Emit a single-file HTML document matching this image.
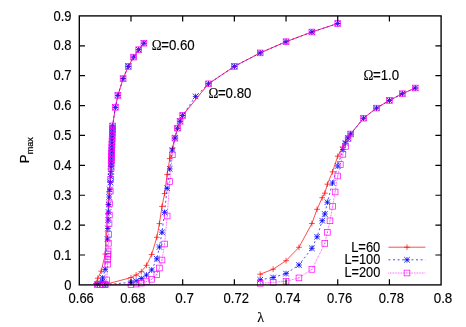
<!DOCTYPE html>
<html><head><meta charset="utf-8"><style>
html,body{margin:0;padding:0;background:#fff;}
svg{display:block;}
text{font-family:"Liberation Sans",sans-serif;fill:#000;stroke:#000;stroke-width:0.15px;}
</style></head><body>
<svg width="466" height="327" viewBox="0 0 466 327" style="will-change:transform">
<rect width="466" height="327" fill="#fff"/>
<g><path d="M95.89 283.50 L97.80 278.20 L101.20 271.20 L105.30 254.00 L107.93 213.50 L108.25 204.60 L109.15 191.50 L110.01 181.50 L110.65 174.00 L111.11 167.00 L111.25 163.10 L111.36 160.00 L111.47 156.90 L111.58 153.80 L111.69 150.70 L111.80 147.60 L111.92 144.50 L112.03 141.40 L112.14 138.30 L112.25 135.20 L112.36 132.10 L112.47 129.00 L112.59 125.90 L115.40 107.30 L117.90 95.40 L123.10 78.60 L128.30 66.40 L133.60 57.10 L138.70 49.70 L143.90 43.20" fill="none" stroke="#ff0000" stroke-width="0.7"/>
<path d="M93.04 283.50H98.74M95.89 280.65V286.35" stroke="#ff0000" stroke-width="0.7" fill="none"/>
<path d="M94.95 278.20H100.65M97.80 275.35V281.05" stroke="#ff0000" stroke-width="0.7" fill="none"/>
<path d="M98.35 271.20H104.05M101.20 268.35V274.05" stroke="#ff0000" stroke-width="0.7" fill="none"/>
<path d="M102.45 254.00H108.15M105.30 251.15V256.85" stroke="#ff0000" stroke-width="0.7" fill="none"/>
<path d="M105.08 213.50H110.78M107.93 210.65V216.35" stroke="#ff0000" stroke-width="0.7" fill="none"/>
<path d="M105.40 204.60H111.10M108.25 201.75V207.45" stroke="#ff0000" stroke-width="0.7" fill="none"/>
<path d="M106.30 191.50H112.00M109.15 188.65V194.35" stroke="#ff0000" stroke-width="0.7" fill="none"/>
<path d="M107.16 181.50H112.86M110.01 178.65V184.35" stroke="#ff0000" stroke-width="0.7" fill="none"/>
<path d="M107.80 174.00H113.50M110.65 171.15V176.85" stroke="#ff0000" stroke-width="0.7" fill="none"/>
<path d="M108.26 167.00H113.96M111.11 164.15V169.85" stroke="#ff0000" stroke-width="0.7" fill="none"/>
<path d="M108.40 163.10H114.10M111.25 160.25V165.95" stroke="#ff0000" stroke-width="0.7" fill="none"/>
<path d="M108.51 160.00H114.21M111.36 157.15V162.85" stroke="#ff0000" stroke-width="0.7" fill="none"/>
<path d="M108.62 156.90H114.32M111.47 154.05V159.75" stroke="#ff0000" stroke-width="0.7" fill="none"/>
<path d="M108.73 153.80H114.43M111.58 150.95V156.65" stroke="#ff0000" stroke-width="0.7" fill="none"/>
<path d="M108.84 150.70H114.54M111.69 147.85V153.55" stroke="#ff0000" stroke-width="0.7" fill="none"/>
<path d="M108.95 147.60H114.65M111.80 144.75V150.45" stroke="#ff0000" stroke-width="0.7" fill="none"/>
<path d="M109.07 144.50H114.77M111.92 141.65V147.35" stroke="#ff0000" stroke-width="0.7" fill="none"/>
<path d="M109.18 141.40H114.88M112.03 138.55V144.25" stroke="#ff0000" stroke-width="0.7" fill="none"/>
<path d="M109.29 138.30H114.99M112.14 135.45V141.15" stroke="#ff0000" stroke-width="0.7" fill="none"/>
<path d="M109.40 135.20H115.10M112.25 132.35V138.05" stroke="#ff0000" stroke-width="0.7" fill="none"/>
<path d="M109.51 132.10H115.21M112.36 129.25V134.95" stroke="#ff0000" stroke-width="0.7" fill="none"/>
<path d="M109.62 129.00H115.32M112.47 126.15V131.85" stroke="#ff0000" stroke-width="0.7" fill="none"/>
<path d="M109.74 125.90H115.44M112.59 123.05V128.75" stroke="#ff0000" stroke-width="0.7" fill="none"/>
<path d="M112.55 107.30H118.25M115.40 104.45V110.15" stroke="#ff0000" stroke-width="0.7" fill="none"/>
<path d="M115.05 95.40H120.75M117.90 92.55V98.25" stroke="#ff0000" stroke-width="0.7" fill="none"/>
<path d="M120.25 78.60H125.95M123.10 75.75V81.45" stroke="#ff0000" stroke-width="0.7" fill="none"/>
<path d="M125.45 66.40H131.15M128.30 63.55V69.25" stroke="#ff0000" stroke-width="0.7" fill="none"/>
<path d="M130.75 57.10H136.45M133.60 54.25V59.95" stroke="#ff0000" stroke-width="0.7" fill="none"/>
<path d="M135.85 49.70H141.55M138.70 46.85V52.55" stroke="#ff0000" stroke-width="0.7" fill="none"/>
<path d="M141.05 43.20H146.75M143.90 40.35V46.05" stroke="#ff0000" stroke-width="0.7" fill="none"/>
<path d="M105.14 284.50 L130.99 277.60 L136.15 275.00 L141.32 271.60 L146.49 265.30 L151.66 254.50 L156.83 237.30 L159.41 223.60 L162.00 206.40 L164.58 193.50 L167.17 174.60 L169.75 158.60 L172.33 148.50 L174.92 138.10 L177.50 128.20 L180.09 121.30 L182.67 115.40 L208.51 83.80 L234.36 66.40 L260.20 52.90 L286.04 41.70 L311.89 32.00 L337.73 23.50" fill="none" stroke="#ff0000" stroke-width="0.7"/>
<path d="M102.29 284.50H107.99M105.14 281.65V287.35" stroke="#ff0000" stroke-width="0.7" fill="none"/>
<path d="M128.14 277.60H133.84M130.99 274.75V280.45" stroke="#ff0000" stroke-width="0.7" fill="none"/>
<path d="M133.30 275.00H139.00M136.15 272.15V277.85" stroke="#ff0000" stroke-width="0.7" fill="none"/>
<path d="M138.47 271.60H144.17M141.32 268.75V274.45" stroke="#ff0000" stroke-width="0.7" fill="none"/>
<path d="M143.64 265.30H149.34M146.49 262.45V268.15" stroke="#ff0000" stroke-width="0.7" fill="none"/>
<path d="M148.81 254.50H154.51M151.66 251.65V257.35" stroke="#ff0000" stroke-width="0.7" fill="none"/>
<path d="M153.98 237.30H159.68M156.83 234.45V240.15" stroke="#ff0000" stroke-width="0.7" fill="none"/>
<path d="M156.56 223.60H162.26M159.41 220.75V226.45" stroke="#ff0000" stroke-width="0.7" fill="none"/>
<path d="M159.15 206.40H164.85M162.00 203.55V209.25" stroke="#ff0000" stroke-width="0.7" fill="none"/>
<path d="M161.73 193.50H167.43M164.58 190.65V196.35" stroke="#ff0000" stroke-width="0.7" fill="none"/>
<path d="M164.32 174.60H170.02M167.17 171.75V177.45" stroke="#ff0000" stroke-width="0.7" fill="none"/>
<path d="M166.90 158.60H172.60M169.75 155.75V161.45" stroke="#ff0000" stroke-width="0.7" fill="none"/>
<path d="M169.48 148.50H175.18M172.33 145.65V151.35" stroke="#ff0000" stroke-width="0.7" fill="none"/>
<path d="M172.07 138.10H177.77M174.92 135.25V140.95" stroke="#ff0000" stroke-width="0.7" fill="none"/>
<path d="M174.65 128.20H180.35M177.50 125.35V131.05" stroke="#ff0000" stroke-width="0.7" fill="none"/>
<path d="M177.24 121.30H182.94M180.09 118.45V124.15" stroke="#ff0000" stroke-width="0.7" fill="none"/>
<path d="M179.82 115.40H185.52M182.67 112.55V118.25" stroke="#ff0000" stroke-width="0.7" fill="none"/>
<path d="M205.66 83.80H211.36M208.51 80.95V86.65" stroke="#ff0000" stroke-width="0.7" fill="none"/>
<path d="M231.51 66.40H237.21M234.36 63.55V69.25" stroke="#ff0000" stroke-width="0.7" fill="none"/>
<path d="M257.35 52.90H263.05M260.20 50.05V55.75" stroke="#ff0000" stroke-width="0.7" fill="none"/>
<path d="M283.19 41.70H288.89M286.04 38.85V44.55" stroke="#ff0000" stroke-width="0.7" fill="none"/>
<path d="M309.04 32.00H314.74M311.89 29.15V34.85" stroke="#ff0000" stroke-width="0.7" fill="none"/>
<path d="M334.88 23.50H340.58M337.73 20.65V26.35" stroke="#ff0000" stroke-width="0.7" fill="none"/>
<path d="M260.20 274.20 L273.12 269.20 L286.04 260.70 L298.96 247.30 L311.89 223.50 L317.05 209.30 L322.22 197.70 L324.81 193.20 L327.39 184.20 L332.56 171.80 L337.73 156.20 L342.90 147.00 L345.48 141.50 L348.07 137.80 L350.65 134.00 L363.57 118.20 L376.49 108.10 L389.41 100.40 L402.34 93.70 L415.26 88.00" fill="none" stroke="#ff0000" stroke-width="0.7"/>
<path d="M257.35 274.20H263.05M260.20 271.35V277.05" stroke="#ff0000" stroke-width="0.7" fill="none"/>
<path d="M270.27 269.20H275.97M273.12 266.35V272.05" stroke="#ff0000" stroke-width="0.7" fill="none"/>
<path d="M283.19 260.70H288.89M286.04 257.85V263.55" stroke="#ff0000" stroke-width="0.7" fill="none"/>
<path d="M296.11 247.30H301.81M298.96 244.45V250.15" stroke="#ff0000" stroke-width="0.7" fill="none"/>
<path d="M309.04 223.50H314.74M311.89 220.65V226.35" stroke="#ff0000" stroke-width="0.7" fill="none"/>
<path d="M314.20 209.30H319.90M317.05 206.45V212.15" stroke="#ff0000" stroke-width="0.7" fill="none"/>
<path d="M319.37 197.70H325.07M322.22 194.85V200.55" stroke="#ff0000" stroke-width="0.7" fill="none"/>
<path d="M321.96 193.20H327.66M324.81 190.35V196.05" stroke="#ff0000" stroke-width="0.7" fill="none"/>
<path d="M324.54 184.20H330.24M327.39 181.35V187.05" stroke="#ff0000" stroke-width="0.7" fill="none"/>
<path d="M329.71 171.80H335.41M332.56 168.95V174.65" stroke="#ff0000" stroke-width="0.7" fill="none"/>
<path d="M334.88 156.20H340.58M337.73 153.35V159.05" stroke="#ff0000" stroke-width="0.7" fill="none"/>
<path d="M340.05 147.00H345.75M342.90 144.15V149.85" stroke="#ff0000" stroke-width="0.7" fill="none"/>
<path d="M342.63 141.50H348.33M345.48 138.65V144.35" stroke="#ff0000" stroke-width="0.7" fill="none"/>
<path d="M345.22 137.80H350.92M348.07 134.95V140.65" stroke="#ff0000" stroke-width="0.7" fill="none"/>
<path d="M347.80 134.00H353.50M350.65 131.15V136.85" stroke="#ff0000" stroke-width="0.7" fill="none"/>
<path d="M360.72 118.20H366.42M363.57 115.35V121.05" stroke="#ff0000" stroke-width="0.7" fill="none"/>
<path d="M373.64 108.10H379.34M376.49 105.25V110.95" stroke="#ff0000" stroke-width="0.7" fill="none"/>
<path d="M386.56 100.40H392.26M389.41 97.55V103.25" stroke="#ff0000" stroke-width="0.7" fill="none"/>
<path d="M399.49 93.70H405.19M402.34 90.85V96.55" stroke="#ff0000" stroke-width="0.7" fill="none"/>
<path d="M412.41 88.00H418.11M415.26 85.15V90.85" stroke="#ff0000" stroke-width="0.7" fill="none"/>
<path d="M97.39 284.20 L99.97 283.20 L102.56 281.30 L102.70 277.90 L105.20 269.40 L107.51 239.10 L107.89 228.50 L108.20 220.00 L108.49 212.00 L108.75 204.60 L109.18 197.00 L109.82 189.50 L110.42 182.50 L110.76 176.70 L110.94 171.50 L111.12 166.50 L111.25 163.10 L111.36 160.00 L111.47 156.90 L111.58 153.80 L111.69 150.70 L111.80 147.60 L111.92 144.50 L112.03 141.40 L112.14 138.30 L112.25 135.20 L112.36 132.10 L112.47 129.00 L112.59 125.90 L115.40 107.30 L117.90 95.40 L123.10 78.60 L128.30 66.40 L133.60 57.10 L138.70 49.70 L143.90 43.20" fill="none" stroke="#0000ff" stroke-width="0.7" stroke-dasharray="2 2.6"/>
<path d="M94.59 284.20H100.19M97.39 281.40V287.00M94.59 281.40L100.19 287.00M94.59 287.00L100.19 281.40" stroke="#0000ff" stroke-width="0.8" fill="none"/>
<path d="M97.17 283.20H102.77M99.97 280.40V286.00M97.17 280.40L102.77 286.00M97.17 286.00L102.77 280.40" stroke="#0000ff" stroke-width="0.8" fill="none"/>
<path d="M99.76 281.30H105.36M102.56 278.50V284.10M99.76 278.50L105.36 284.10M99.76 284.10L105.36 278.50" stroke="#0000ff" stroke-width="0.8" fill="none"/>
<path d="M99.90 277.90H105.50M102.70 275.10V280.70M99.90 275.10L105.50 280.70M99.90 280.70L105.50 275.10" stroke="#0000ff" stroke-width="0.8" fill="none"/>
<path d="M102.40 269.40H108.00M105.20 266.60V272.20M102.40 266.60L108.00 272.20M102.40 272.20L108.00 266.60" stroke="#0000ff" stroke-width="0.8" fill="none"/>
<path d="M104.71 239.10H110.31M107.51 236.30V241.90M104.71 236.30L110.31 241.90M104.71 241.90L110.31 236.30" stroke="#0000ff" stroke-width="0.8" fill="none"/>
<path d="M105.09 228.50H110.69M107.89 225.70V231.30M105.09 225.70L110.69 231.30M105.09 231.30L110.69 225.70" stroke="#0000ff" stroke-width="0.8" fill="none"/>
<path d="M105.40 220.00H111.00M108.20 217.20V222.80M105.40 217.20L111.00 222.80M105.40 222.80L111.00 217.20" stroke="#0000ff" stroke-width="0.8" fill="none"/>
<path d="M105.69 212.00H111.29M108.49 209.20V214.80M105.69 209.20L111.29 214.80M105.69 214.80L111.29 209.20" stroke="#0000ff" stroke-width="0.8" fill="none"/>
<path d="M105.95 204.60H111.55M108.75 201.80V207.40M105.95 201.80L111.55 207.40M105.95 207.40L111.55 201.80" stroke="#0000ff" stroke-width="0.8" fill="none"/>
<path d="M106.38 197.00H111.98M109.18 194.20V199.80M106.38 194.20L111.98 199.80M106.38 199.80L111.98 194.20" stroke="#0000ff" stroke-width="0.8" fill="none"/>
<path d="M107.02 189.50H112.62M109.82 186.70V192.30M107.02 186.70L112.62 192.30M107.02 192.30L112.62 186.70" stroke="#0000ff" stroke-width="0.8" fill="none"/>
<path d="M107.62 182.50H113.22M110.42 179.70V185.30M107.62 179.70L113.22 185.30M107.62 185.30L113.22 179.70" stroke="#0000ff" stroke-width="0.8" fill="none"/>
<path d="M107.96 176.70H113.56M110.76 173.90V179.50M107.96 173.90L113.56 179.50M107.96 179.50L113.56 173.90" stroke="#0000ff" stroke-width="0.8" fill="none"/>
<path d="M108.14 171.50H113.74M110.94 168.70V174.30M108.14 168.70L113.74 174.30M108.14 174.30L113.74 168.70" stroke="#0000ff" stroke-width="0.8" fill="none"/>
<path d="M108.32 166.50H113.92M111.12 163.70V169.30M108.32 163.70L113.92 169.30M108.32 169.30L113.92 163.70" stroke="#0000ff" stroke-width="0.8" fill="none"/>
<path d="M108.45 163.10H114.05M111.25 160.30V165.90M108.45 160.30L114.05 165.90M108.45 165.90L114.05 160.30" stroke="#0000ff" stroke-width="0.8" fill="none"/>
<path d="M108.56 160.00H114.16M111.36 157.20V162.80M108.56 157.20L114.16 162.80M108.56 162.80L114.16 157.20" stroke="#0000ff" stroke-width="0.8" fill="none"/>
<path d="M108.67 156.90H114.27M111.47 154.10V159.70M108.67 154.10L114.27 159.70M108.67 159.70L114.27 154.10" stroke="#0000ff" stroke-width="0.8" fill="none"/>
<path d="M108.78 153.80H114.38M111.58 151.00V156.60M108.78 151.00L114.38 156.60M108.78 156.60L114.38 151.00" stroke="#0000ff" stroke-width="0.8" fill="none"/>
<path d="M108.89 150.70H114.49M111.69 147.90V153.50M108.89 147.90L114.49 153.50M108.89 153.50L114.49 147.90" stroke="#0000ff" stroke-width="0.8" fill="none"/>
<path d="M109.00 147.60H114.60M111.80 144.80V150.40M109.00 144.80L114.60 150.40M109.00 150.40L114.60 144.80" stroke="#0000ff" stroke-width="0.8" fill="none"/>
<path d="M109.12 144.50H114.72M111.92 141.70V147.30M109.12 141.70L114.72 147.30M109.12 147.30L114.72 141.70" stroke="#0000ff" stroke-width="0.8" fill="none"/>
<path d="M109.23 141.40H114.83M112.03 138.60V144.20M109.23 138.60L114.83 144.20M109.23 144.20L114.83 138.60" stroke="#0000ff" stroke-width="0.8" fill="none"/>
<path d="M109.34 138.30H114.94M112.14 135.50V141.10M109.34 135.50L114.94 141.10M109.34 141.10L114.94 135.50" stroke="#0000ff" stroke-width="0.8" fill="none"/>
<path d="M109.45 135.20H115.05M112.25 132.40V138.00M109.45 132.40L115.05 138.00M109.45 138.00L115.05 132.40" stroke="#0000ff" stroke-width="0.8" fill="none"/>
<path d="M109.56 132.10H115.16M112.36 129.30V134.90M109.56 129.30L115.16 134.90M109.56 134.90L115.16 129.30" stroke="#0000ff" stroke-width="0.8" fill="none"/>
<path d="M109.67 129.00H115.27M112.47 126.20V131.80M109.67 126.20L115.27 131.80M109.67 131.80L115.27 126.20" stroke="#0000ff" stroke-width="0.8" fill="none"/>
<path d="M109.79 125.90H115.39M112.59 123.10V128.70M109.79 123.10L115.39 128.70M109.79 128.70L115.39 123.10" stroke="#0000ff" stroke-width="0.8" fill="none"/>
<path d="M112.60 107.30H118.20M115.40 104.50V110.10M112.60 104.50L118.20 110.10M112.60 110.10L118.20 104.50" stroke="#0000ff" stroke-width="0.8" fill="none"/>
<path d="M115.10 95.40H120.70M117.90 92.60V98.20M115.10 92.60L120.70 98.20M115.10 98.20L120.70 92.60" stroke="#0000ff" stroke-width="0.8" fill="none"/>
<path d="M120.30 78.60H125.90M123.10 75.80V81.40M120.30 75.80L125.90 81.40M120.30 81.40L125.90 75.80" stroke="#0000ff" stroke-width="0.8" fill="none"/>
<path d="M125.50 66.40H131.10M128.30 63.60V69.20M125.50 63.60L131.10 69.20M125.50 69.20L131.10 63.60" stroke="#0000ff" stroke-width="0.8" fill="none"/>
<path d="M130.80 57.10H136.40M133.60 54.30V59.90M130.80 54.30L136.40 59.90M130.80 59.90L136.40 54.30" stroke="#0000ff" stroke-width="0.8" fill="none"/>
<path d="M135.90 49.70H141.50M138.70 46.90V52.50M135.90 46.90L141.50 52.50M135.90 52.50L141.50 46.90" stroke="#0000ff" stroke-width="0.8" fill="none"/>
<path d="M141.10 43.20H146.70M143.90 40.40V46.00M141.10 40.40L146.70 46.00M141.10 46.00L146.70 40.40" stroke="#0000ff" stroke-width="0.8" fill="none"/>
<path d="M105.14 284.60 L130.99 282.40 L136.15 281.00 L141.32 278.50 L146.49 275.00 L151.66 270.00 L156.83 258.80 L159.41 247.00 L162.00 232.20 L164.58 212.40 L167.17 188.30 L169.75 168.90 L172.33 150.00 L174.92 138.10 L177.50 128.20 L180.09 121.30 L182.67 115.40 L195.59 96.40 L208.51 83.80 L234.36 66.40 L260.20 52.90 L286.04 41.70 L311.89 32.00 L337.73 23.50" fill="none" stroke="#0000ff" stroke-width="0.7" stroke-dasharray="2 2.6"/>
<path d="M102.34 284.60H107.94M105.14 281.80V287.40M102.34 281.80L107.94 287.40M102.34 287.40L107.94 281.80" stroke="#0000ff" stroke-width="0.8" fill="none"/>
<path d="M128.19 282.40H133.79M130.99 279.60V285.20M128.19 279.60L133.79 285.20M128.19 285.20L133.79 279.60" stroke="#0000ff" stroke-width="0.8" fill="none"/>
<path d="M133.35 281.00H138.95M136.15 278.20V283.80M133.35 278.20L138.95 283.80M133.35 283.80L138.95 278.20" stroke="#0000ff" stroke-width="0.8" fill="none"/>
<path d="M138.52 278.50H144.12M141.32 275.70V281.30M138.52 275.70L144.12 281.30M138.52 281.30L144.12 275.70" stroke="#0000ff" stroke-width="0.8" fill="none"/>
<path d="M143.69 275.00H149.29M146.49 272.20V277.80M143.69 272.20L149.29 277.80M143.69 277.80L149.29 272.20" stroke="#0000ff" stroke-width="0.8" fill="none"/>
<path d="M148.86 270.00H154.46M151.66 267.20V272.80M148.86 267.20L154.46 272.80M148.86 272.80L154.46 267.20" stroke="#0000ff" stroke-width="0.8" fill="none"/>
<path d="M154.03 258.80H159.63M156.83 256.00V261.60M154.03 256.00L159.63 261.60M154.03 261.60L159.63 256.00" stroke="#0000ff" stroke-width="0.8" fill="none"/>
<path d="M156.61 247.00H162.21M159.41 244.20V249.80M156.61 244.20L162.21 249.80M156.61 249.80L162.21 244.20" stroke="#0000ff" stroke-width="0.8" fill="none"/>
<path d="M159.20 232.20H164.80M162.00 229.40V235.00M159.20 229.40L164.80 235.00M159.20 235.00L164.80 229.40" stroke="#0000ff" stroke-width="0.8" fill="none"/>
<path d="M161.78 212.40H167.38M164.58 209.60V215.20M161.78 209.60L167.38 215.20M161.78 215.20L167.38 209.60" stroke="#0000ff" stroke-width="0.8" fill="none"/>
<path d="M164.37 188.30H169.97M167.17 185.50V191.10M164.37 185.50L169.97 191.10M164.37 191.10L169.97 185.50" stroke="#0000ff" stroke-width="0.8" fill="none"/>
<path d="M166.95 168.90H172.55M169.75 166.10V171.70M166.95 166.10L172.55 171.70M166.95 171.70L172.55 166.10" stroke="#0000ff" stroke-width="0.8" fill="none"/>
<path d="M169.53 150.00H175.13M172.33 147.20V152.80M169.53 147.20L175.13 152.80M169.53 152.80L175.13 147.20" stroke="#0000ff" stroke-width="0.8" fill="none"/>
<path d="M172.12 138.10H177.72M174.92 135.30V140.90M172.12 135.30L177.72 140.90M172.12 140.90L177.72 135.30" stroke="#0000ff" stroke-width="0.8" fill="none"/>
<path d="M174.70 128.20H180.30M177.50 125.40V131.00M174.70 125.40L180.30 131.00M174.70 131.00L180.30 125.40" stroke="#0000ff" stroke-width="0.8" fill="none"/>
<path d="M177.29 121.30H182.89M180.09 118.50V124.10M177.29 118.50L182.89 124.10M177.29 124.10L182.89 118.50" stroke="#0000ff" stroke-width="0.8" fill="none"/>
<path d="M179.87 115.40H185.47M182.67 112.60V118.20M179.87 112.60L185.47 118.20M179.87 118.20L185.47 112.60" stroke="#0000ff" stroke-width="0.8" fill="none"/>
<path d="M192.79 96.40H198.39M195.59 93.60V99.20M192.79 93.60L198.39 99.20M192.79 99.20L198.39 93.60" stroke="#0000ff" stroke-width="0.8" fill="none"/>
<path d="M205.71 83.80H211.31M208.51 81.00V86.60M205.71 81.00L211.31 86.60M205.71 86.60L211.31 81.00" stroke="#0000ff" stroke-width="0.8" fill="none"/>
<path d="M231.56 66.40H237.16M234.36 63.60V69.20M231.56 63.60L237.16 69.20M231.56 69.20L237.16 63.60" stroke="#0000ff" stroke-width="0.8" fill="none"/>
<path d="M257.40 52.90H263.00M260.20 50.10V55.70M257.40 50.10L263.00 55.70M257.40 55.70L263.00 50.10" stroke="#0000ff" stroke-width="0.8" fill="none"/>
<path d="M283.24 41.70H288.84M286.04 38.90V44.50M283.24 38.90L288.84 44.50M283.24 44.50L288.84 38.90" stroke="#0000ff" stroke-width="0.8" fill="none"/>
<path d="M309.09 32.00H314.69M311.89 29.20V34.80M309.09 29.20L314.69 34.80M309.09 34.80L314.69 29.20" stroke="#0000ff" stroke-width="0.8" fill="none"/>
<path d="M334.93 23.50H340.53M337.73 20.70V26.30M334.93 20.70L340.53 26.30M334.93 26.30L340.53 20.70" stroke="#0000ff" stroke-width="0.8" fill="none"/>
<path d="M260.20 279.80 L273.12 277.50 L286.04 273.60 L298.96 265.00 L311.89 248.30 L317.05 236.80 L322.22 220.70 L324.81 214.00 L327.39 202.20 L332.56 183.00 L337.73 166.00 L342.90 149.50 L345.48 143.00 L348.07 138.00 L350.65 134.00 L363.57 118.20 L376.49 108.10 L389.41 100.40 L402.34 93.70 L415.26 88.00" fill="none" stroke="#0000ff" stroke-width="0.7" stroke-dasharray="2 2.6"/>
<path d="M257.40 279.80H263.00M260.20 277.00V282.60M257.40 277.00L263.00 282.60M257.40 282.60L263.00 277.00" stroke="#0000ff" stroke-width="0.8" fill="none"/>
<path d="M270.32 277.50H275.92M273.12 274.70V280.30M270.32 274.70L275.92 280.30M270.32 280.30L275.92 274.70" stroke="#0000ff" stroke-width="0.8" fill="none"/>
<path d="M283.24 273.60H288.84M286.04 270.80V276.40M283.24 270.80L288.84 276.40M283.24 276.40L288.84 270.80" stroke="#0000ff" stroke-width="0.8" fill="none"/>
<path d="M296.16 265.00H301.76M298.96 262.20V267.80M296.16 262.20L301.76 267.80M296.16 267.80L301.76 262.20" stroke="#0000ff" stroke-width="0.8" fill="none"/>
<path d="M309.09 248.30H314.69M311.89 245.50V251.10M309.09 245.50L314.69 251.10M309.09 251.10L314.69 245.50" stroke="#0000ff" stroke-width="0.8" fill="none"/>
<path d="M314.25 236.80H319.85M317.05 234.00V239.60M314.25 234.00L319.85 239.60M314.25 239.60L319.85 234.00" stroke="#0000ff" stroke-width="0.8" fill="none"/>
<path d="M319.42 220.70H325.02M322.22 217.90V223.50M319.42 217.90L325.02 223.50M319.42 223.50L325.02 217.90" stroke="#0000ff" stroke-width="0.8" fill="none"/>
<path d="M322.01 214.00H327.61M324.81 211.20V216.80M322.01 211.20L327.61 216.80M322.01 216.80L327.61 211.20" stroke="#0000ff" stroke-width="0.8" fill="none"/>
<path d="M324.59 202.20H330.19M327.39 199.40V205.00M324.59 199.40L330.19 205.00M324.59 205.00L330.19 199.40" stroke="#0000ff" stroke-width="0.8" fill="none"/>
<path d="M329.76 183.00H335.36M332.56 180.20V185.80M329.76 180.20L335.36 185.80M329.76 185.80L335.36 180.20" stroke="#0000ff" stroke-width="0.8" fill="none"/>
<path d="M334.93 166.00H340.53M337.73 163.20V168.80M334.93 163.20L340.53 168.80M334.93 168.80L340.53 163.20" stroke="#0000ff" stroke-width="0.8" fill="none"/>
<path d="M340.10 149.50H345.70M342.90 146.70V152.30M340.10 146.70L345.70 152.30M340.10 152.30L345.70 146.70" stroke="#0000ff" stroke-width="0.8" fill="none"/>
<path d="M342.68 143.00H348.28M345.48 140.20V145.80M342.68 140.20L348.28 145.80M342.68 145.80L348.28 140.20" stroke="#0000ff" stroke-width="0.8" fill="none"/>
<path d="M345.27 138.00H350.87M348.07 135.20V140.80M345.27 135.20L350.87 140.80M345.27 140.80L350.87 135.20" stroke="#0000ff" stroke-width="0.8" fill="none"/>
<path d="M347.85 134.00H353.45M350.65 131.20V136.80M347.85 131.20L353.45 136.80M347.85 136.80L353.45 131.20" stroke="#0000ff" stroke-width="0.8" fill="none"/>
<path d="M360.77 118.20H366.37M363.57 115.40V121.00M360.77 115.40L366.37 121.00M360.77 121.00L366.37 115.40" stroke="#0000ff" stroke-width="0.8" fill="none"/>
<path d="M373.69 108.10H379.29M376.49 105.30V110.90M373.69 105.30L379.29 110.90M373.69 110.90L379.29 105.30" stroke="#0000ff" stroke-width="0.8" fill="none"/>
<path d="M386.61 100.40H392.21M389.41 97.60V103.20M386.61 97.60L392.21 103.20M386.61 103.20L392.21 97.60" stroke="#0000ff" stroke-width="0.8" fill="none"/>
<path d="M399.54 93.70H405.14M402.34 90.90V96.50M399.54 90.90L405.14 96.50M399.54 96.50L405.14 90.90" stroke="#0000ff" stroke-width="0.8" fill="none"/>
<path d="M412.46 88.00H418.06M415.26 85.20V90.80M412.46 85.20L418.06 90.80M412.46 90.80L418.06 85.20" stroke="#0000ff" stroke-width="0.8" fill="none"/>
<path d="M97.39 284.70 L99.97 284.70 L102.56 284.70 L105.14 284.60 L106.70 279.90 L107.61 264.20 L107.78 259.50 L107.89 256.40 L107.97 254.10 L108.08 251.00 L108.36 243.30 L108.68 234.50 L109.06 223.70 L109.37 215.10 L109.78 203.70 L110.24 191.00 L110.66 179.30 L111.06 168.30 L111.25 163.10 L111.36 160.00 L111.47 156.90 L111.58 153.80 L111.69 150.70 L111.80 147.60 L111.92 144.50 L112.03 141.40 L112.14 138.30 L112.25 135.20 L112.36 132.10 L112.47 129.00 L112.59 125.90 L115.40 107.30 L117.90 95.40 L123.10 78.60 L128.30 66.40 L133.60 57.10 L138.70 49.70 L143.90 43.20" fill="none" stroke="#ff00ff" stroke-width="0.7" stroke-dasharray="0.8 0.8"/>
<rect x="94.54" y="281.85" width="5.70" height="5.70" stroke="#ff00ff" stroke-width="0.7" fill="none"/>
<rect x="96.99" y="284.30" width="0.8" height="0.8" fill="#ff00ff" opacity="0.7"/>
<rect x="97.12" y="281.85" width="5.70" height="5.70" stroke="#ff00ff" stroke-width="0.7" fill="none"/>
<rect x="99.57" y="284.30" width="0.8" height="0.8" fill="#ff00ff" opacity="0.7"/>
<rect x="99.71" y="281.85" width="5.70" height="5.70" stroke="#ff00ff" stroke-width="0.7" fill="none"/>
<rect x="102.16" y="284.30" width="0.8" height="0.8" fill="#ff00ff" opacity="0.7"/>
<rect x="102.29" y="281.75" width="5.70" height="5.70" stroke="#ff00ff" stroke-width="0.7" fill="none"/>
<rect x="104.74" y="284.20" width="0.8" height="0.8" fill="#ff00ff" opacity="0.7"/>
<rect x="103.85" y="277.05" width="5.70" height="5.70" stroke="#ff00ff" stroke-width="0.7" fill="none"/>
<rect x="106.30" y="279.50" width="0.8" height="0.8" fill="#ff00ff" opacity="0.7"/>
<rect x="104.76" y="261.35" width="5.70" height="5.70" stroke="#ff00ff" stroke-width="0.7" fill="none"/>
<rect x="107.21" y="263.80" width="0.8" height="0.8" fill="#ff00ff" opacity="0.7"/>
<rect x="104.93" y="256.65" width="5.70" height="5.70" stroke="#ff00ff" stroke-width="0.7" fill="none"/>
<rect x="107.38" y="259.10" width="0.8" height="0.8" fill="#ff00ff" opacity="0.7"/>
<rect x="105.04" y="253.55" width="5.70" height="5.70" stroke="#ff00ff" stroke-width="0.7" fill="none"/>
<rect x="107.49" y="256.00" width="0.8" height="0.8" fill="#ff00ff" opacity="0.7"/>
<rect x="105.12" y="251.25" width="5.70" height="5.70" stroke="#ff00ff" stroke-width="0.7" fill="none"/>
<rect x="107.57" y="253.70" width="0.8" height="0.8" fill="#ff00ff" opacity="0.7"/>
<rect x="105.23" y="248.15" width="5.70" height="5.70" stroke="#ff00ff" stroke-width="0.7" fill="none"/>
<rect x="107.68" y="250.60" width="0.8" height="0.8" fill="#ff00ff" opacity="0.7"/>
<rect x="105.51" y="240.45" width="5.70" height="5.70" stroke="#ff00ff" stroke-width="0.7" fill="none"/>
<rect x="107.96" y="242.90" width="0.8" height="0.8" fill="#ff00ff" opacity="0.7"/>
<rect x="105.83" y="231.65" width="5.70" height="5.70" stroke="#ff00ff" stroke-width="0.7" fill="none"/>
<rect x="108.28" y="234.10" width="0.8" height="0.8" fill="#ff00ff" opacity="0.7"/>
<rect x="106.21" y="220.85" width="5.70" height="5.70" stroke="#ff00ff" stroke-width="0.7" fill="none"/>
<rect x="108.66" y="223.30" width="0.8" height="0.8" fill="#ff00ff" opacity="0.7"/>
<rect x="106.52" y="212.25" width="5.70" height="5.70" stroke="#ff00ff" stroke-width="0.7" fill="none"/>
<rect x="108.97" y="214.70" width="0.8" height="0.8" fill="#ff00ff" opacity="0.7"/>
<rect x="106.93" y="200.85" width="5.70" height="5.70" stroke="#ff00ff" stroke-width="0.7" fill="none"/>
<rect x="109.38" y="203.30" width="0.8" height="0.8" fill="#ff00ff" opacity="0.7"/>
<rect x="107.39" y="188.15" width="5.70" height="5.70" stroke="#ff00ff" stroke-width="0.7" fill="none"/>
<rect x="109.84" y="190.60" width="0.8" height="0.8" fill="#ff00ff" opacity="0.7"/>
<rect x="107.81" y="176.45" width="5.70" height="5.70" stroke="#ff00ff" stroke-width="0.7" fill="none"/>
<rect x="110.26" y="178.90" width="0.8" height="0.8" fill="#ff00ff" opacity="0.7"/>
<rect x="108.21" y="165.45" width="5.70" height="5.70" stroke="#ff00ff" stroke-width="0.7" fill="none"/>
<rect x="110.66" y="167.90" width="0.8" height="0.8" fill="#ff00ff" opacity="0.7"/>
<rect x="108.40" y="160.25" width="5.70" height="5.70" stroke="#ff00ff" stroke-width="0.7" fill="none"/>
<rect x="110.85" y="162.70" width="0.8" height="0.8" fill="#ff00ff" opacity="0.7"/>
<rect x="108.51" y="157.15" width="5.70" height="5.70" stroke="#ff00ff" stroke-width="0.7" fill="none"/>
<rect x="110.96" y="159.60" width="0.8" height="0.8" fill="#ff00ff" opacity="0.7"/>
<rect x="108.62" y="154.05" width="5.70" height="5.70" stroke="#ff00ff" stroke-width="0.7" fill="none"/>
<rect x="111.07" y="156.50" width="0.8" height="0.8" fill="#ff00ff" opacity="0.7"/>
<rect x="108.73" y="150.95" width="5.70" height="5.70" stroke="#ff00ff" stroke-width="0.7" fill="none"/>
<rect x="111.18" y="153.40" width="0.8" height="0.8" fill="#ff00ff" opacity="0.7"/>
<rect x="108.84" y="147.85" width="5.70" height="5.70" stroke="#ff00ff" stroke-width="0.7" fill="none"/>
<rect x="111.29" y="150.30" width="0.8" height="0.8" fill="#ff00ff" opacity="0.7"/>
<rect x="108.95" y="144.75" width="5.70" height="5.70" stroke="#ff00ff" stroke-width="0.7" fill="none"/>
<rect x="111.40" y="147.20" width="0.8" height="0.8" fill="#ff00ff" opacity="0.7"/>
<rect x="109.07" y="141.65" width="5.70" height="5.70" stroke="#ff00ff" stroke-width="0.7" fill="none"/>
<rect x="111.52" y="144.10" width="0.8" height="0.8" fill="#ff00ff" opacity="0.7"/>
<rect x="109.18" y="138.55" width="5.70" height="5.70" stroke="#ff00ff" stroke-width="0.7" fill="none"/>
<rect x="111.63" y="141.00" width="0.8" height="0.8" fill="#ff00ff" opacity="0.7"/>
<rect x="109.29" y="135.45" width="5.70" height="5.70" stroke="#ff00ff" stroke-width="0.7" fill="none"/>
<rect x="111.74" y="137.90" width="0.8" height="0.8" fill="#ff00ff" opacity="0.7"/>
<rect x="109.40" y="132.35" width="5.70" height="5.70" stroke="#ff00ff" stroke-width="0.7" fill="none"/>
<rect x="111.85" y="134.80" width="0.8" height="0.8" fill="#ff00ff" opacity="0.7"/>
<rect x="109.51" y="129.25" width="5.70" height="5.70" stroke="#ff00ff" stroke-width="0.7" fill="none"/>
<rect x="111.96" y="131.70" width="0.8" height="0.8" fill="#ff00ff" opacity="0.7"/>
<rect x="109.62" y="126.15" width="5.70" height="5.70" stroke="#ff00ff" stroke-width="0.7" fill="none"/>
<rect x="112.07" y="128.60" width="0.8" height="0.8" fill="#ff00ff" opacity="0.7"/>
<rect x="109.74" y="123.05" width="5.70" height="5.70" stroke="#ff00ff" stroke-width="0.7" fill="none"/>
<rect x="112.19" y="125.50" width="0.8" height="0.8" fill="#ff00ff" opacity="0.7"/>
<rect x="112.55" y="104.45" width="5.70" height="5.70" stroke="#ff00ff" stroke-width="0.7" fill="none"/>
<rect x="115.00" y="106.90" width="0.8" height="0.8" fill="#ff00ff" opacity="0.7"/>
<rect x="115.05" y="92.55" width="5.70" height="5.70" stroke="#ff00ff" stroke-width="0.7" fill="none"/>
<rect x="117.50" y="95.00" width="0.8" height="0.8" fill="#ff00ff" opacity="0.7"/>
<rect x="120.25" y="75.75" width="5.70" height="5.70" stroke="#ff00ff" stroke-width="0.7" fill="none"/>
<rect x="122.70" y="78.20" width="0.8" height="0.8" fill="#ff00ff" opacity="0.7"/>
<rect x="125.45" y="63.55" width="5.70" height="5.70" stroke="#ff00ff" stroke-width="0.7" fill="none"/>
<rect x="127.90" y="66.00" width="0.8" height="0.8" fill="#ff00ff" opacity="0.7"/>
<rect x="130.75" y="54.25" width="5.70" height="5.70" stroke="#ff00ff" stroke-width="0.7" fill="none"/>
<rect x="133.20" y="56.70" width="0.8" height="0.8" fill="#ff00ff" opacity="0.7"/>
<rect x="135.85" y="46.85" width="5.70" height="5.70" stroke="#ff00ff" stroke-width="0.7" fill="none"/>
<rect x="138.30" y="49.30" width="0.8" height="0.8" fill="#ff00ff" opacity="0.7"/>
<rect x="141.05" y="40.35" width="5.70" height="5.70" stroke="#ff00ff" stroke-width="0.7" fill="none"/>
<rect x="143.50" y="42.80" width="0.8" height="0.8" fill="#ff00ff" opacity="0.7"/>
<path d="M105.14 284.70 L130.99 284.60 L136.15 284.10 L141.32 283.10 L146.49 281.60 L151.66 279.30 L156.83 274.50 L159.41 268.00 L162.00 260.00 L164.58 244.00 L167.17 216.00 L169.75 181.50 L172.33 154.80 L174.92 138.10 L177.50 128.20 L180.09 121.30 L182.67 115.40 L208.51 83.80 L234.36 66.40 L260.20 52.90 L286.04 41.70 L311.89 32.00 L337.73 23.50" fill="none" stroke="#ff00ff" stroke-width="0.7" stroke-dasharray="0.8 0.8"/>
<rect x="102.29" y="281.85" width="5.70" height="5.70" stroke="#ff00ff" stroke-width="0.7" fill="none"/>
<rect x="104.74" y="284.30" width="0.8" height="0.8" fill="#ff00ff" opacity="0.7"/>
<rect x="128.14" y="281.75" width="5.70" height="5.70" stroke="#ff00ff" stroke-width="0.7" fill="none"/>
<rect x="130.59" y="284.20" width="0.8" height="0.8" fill="#ff00ff" opacity="0.7"/>
<rect x="133.30" y="281.25" width="5.70" height="5.70" stroke="#ff00ff" stroke-width="0.7" fill="none"/>
<rect x="135.75" y="283.70" width="0.8" height="0.8" fill="#ff00ff" opacity="0.7"/>
<rect x="138.47" y="280.25" width="5.70" height="5.70" stroke="#ff00ff" stroke-width="0.7" fill="none"/>
<rect x="140.92" y="282.70" width="0.8" height="0.8" fill="#ff00ff" opacity="0.7"/>
<rect x="143.64" y="278.75" width="5.70" height="5.70" stroke="#ff00ff" stroke-width="0.7" fill="none"/>
<rect x="146.09" y="281.20" width="0.8" height="0.8" fill="#ff00ff" opacity="0.7"/>
<rect x="148.81" y="276.45" width="5.70" height="5.70" stroke="#ff00ff" stroke-width="0.7" fill="none"/>
<rect x="151.26" y="278.90" width="0.8" height="0.8" fill="#ff00ff" opacity="0.7"/>
<rect x="153.98" y="271.65" width="5.70" height="5.70" stroke="#ff00ff" stroke-width="0.7" fill="none"/>
<rect x="156.43" y="274.10" width="0.8" height="0.8" fill="#ff00ff" opacity="0.7"/>
<rect x="156.56" y="265.15" width="5.70" height="5.70" stroke="#ff00ff" stroke-width="0.7" fill="none"/>
<rect x="159.01" y="267.60" width="0.8" height="0.8" fill="#ff00ff" opacity="0.7"/>
<rect x="159.15" y="257.15" width="5.70" height="5.70" stroke="#ff00ff" stroke-width="0.7" fill="none"/>
<rect x="161.60" y="259.60" width="0.8" height="0.8" fill="#ff00ff" opacity="0.7"/>
<rect x="161.73" y="241.15" width="5.70" height="5.70" stroke="#ff00ff" stroke-width="0.7" fill="none"/>
<rect x="164.18" y="243.60" width="0.8" height="0.8" fill="#ff00ff" opacity="0.7"/>
<rect x="164.32" y="213.15" width="5.70" height="5.70" stroke="#ff00ff" stroke-width="0.7" fill="none"/>
<rect x="166.77" y="215.60" width="0.8" height="0.8" fill="#ff00ff" opacity="0.7"/>
<rect x="166.90" y="178.65" width="5.70" height="5.70" stroke="#ff00ff" stroke-width="0.7" fill="none"/>
<rect x="169.35" y="181.10" width="0.8" height="0.8" fill="#ff00ff" opacity="0.7"/>
<rect x="169.48" y="151.95" width="5.70" height="5.70" stroke="#ff00ff" stroke-width="0.7" fill="none"/>
<rect x="171.93" y="154.40" width="0.8" height="0.8" fill="#ff00ff" opacity="0.7"/>
<rect x="172.07" y="135.25" width="5.70" height="5.70" stroke="#ff00ff" stroke-width="0.7" fill="none"/>
<rect x="174.52" y="137.70" width="0.8" height="0.8" fill="#ff00ff" opacity="0.7"/>
<rect x="174.65" y="125.35" width="5.70" height="5.70" stroke="#ff00ff" stroke-width="0.7" fill="none"/>
<rect x="177.10" y="127.80" width="0.8" height="0.8" fill="#ff00ff" opacity="0.7"/>
<rect x="177.24" y="118.45" width="5.70" height="5.70" stroke="#ff00ff" stroke-width="0.7" fill="none"/>
<rect x="179.69" y="120.90" width="0.8" height="0.8" fill="#ff00ff" opacity="0.7"/>
<rect x="179.82" y="112.55" width="5.70" height="5.70" stroke="#ff00ff" stroke-width="0.7" fill="none"/>
<rect x="182.27" y="115.00" width="0.8" height="0.8" fill="#ff00ff" opacity="0.7"/>
<rect x="205.66" y="80.95" width="5.70" height="5.70" stroke="#ff00ff" stroke-width="0.7" fill="none"/>
<rect x="208.11" y="83.40" width="0.8" height="0.8" fill="#ff00ff" opacity="0.7"/>
<rect x="231.51" y="63.55" width="5.70" height="5.70" stroke="#ff00ff" stroke-width="0.7" fill="none"/>
<rect x="233.96" y="66.00" width="0.8" height="0.8" fill="#ff00ff" opacity="0.7"/>
<rect x="257.35" y="50.05" width="5.70" height="5.70" stroke="#ff00ff" stroke-width="0.7" fill="none"/>
<rect x="259.80" y="52.50" width="0.8" height="0.8" fill="#ff00ff" opacity="0.7"/>
<rect x="283.19" y="38.85" width="5.70" height="5.70" stroke="#ff00ff" stroke-width="0.7" fill="none"/>
<rect x="285.64" y="41.30" width="0.8" height="0.8" fill="#ff00ff" opacity="0.7"/>
<rect x="309.04" y="29.15" width="5.70" height="5.70" stroke="#ff00ff" stroke-width="0.7" fill="none"/>
<rect x="311.49" y="31.60" width="0.8" height="0.8" fill="#ff00ff" opacity="0.7"/>
<rect x="334.88" y="20.65" width="5.70" height="5.70" stroke="#ff00ff" stroke-width="0.7" fill="none"/>
<rect x="337.33" y="23.10" width="0.8" height="0.8" fill="#ff00ff" opacity="0.7"/>
<path d="M260.20 283.30 L273.12 282.30 L286.04 281.30 L298.96 277.90 L311.89 269.40 L324.81 243.40 L327.39 232.30 L329.98 220.80 L332.56 206.30 L335.14 192.00 L337.73 176.00 L340.31 164.50 L342.90 154.30 L345.48 146.40 L348.07 138.70 L350.65 134.00 L363.57 118.20 L376.49 108.10 L389.41 100.40 L402.34 93.70 L415.26 88.00" fill="none" stroke="#ff00ff" stroke-width="0.7" stroke-dasharray="0.8 0.8"/>
<rect x="257.35" y="280.45" width="5.70" height="5.70" stroke="#ff00ff" stroke-width="0.7" fill="none"/>
<rect x="259.80" y="282.90" width="0.8" height="0.8" fill="#ff00ff" opacity="0.7"/>
<rect x="270.27" y="279.45" width="5.70" height="5.70" stroke="#ff00ff" stroke-width="0.7" fill="none"/>
<rect x="272.72" y="281.90" width="0.8" height="0.8" fill="#ff00ff" opacity="0.7"/>
<rect x="283.19" y="278.45" width="5.70" height="5.70" stroke="#ff00ff" stroke-width="0.7" fill="none"/>
<rect x="285.64" y="280.90" width="0.8" height="0.8" fill="#ff00ff" opacity="0.7"/>
<rect x="296.11" y="275.05" width="5.70" height="5.70" stroke="#ff00ff" stroke-width="0.7" fill="none"/>
<rect x="298.56" y="277.50" width="0.8" height="0.8" fill="#ff00ff" opacity="0.7"/>
<rect x="309.04" y="266.55" width="5.70" height="5.70" stroke="#ff00ff" stroke-width="0.7" fill="none"/>
<rect x="311.49" y="269.00" width="0.8" height="0.8" fill="#ff00ff" opacity="0.7"/>
<rect x="321.96" y="240.55" width="5.70" height="5.70" stroke="#ff00ff" stroke-width="0.7" fill="none"/>
<rect x="324.41" y="243.00" width="0.8" height="0.8" fill="#ff00ff" opacity="0.7"/>
<rect x="324.54" y="229.45" width="5.70" height="5.70" stroke="#ff00ff" stroke-width="0.7" fill="none"/>
<rect x="326.99" y="231.90" width="0.8" height="0.8" fill="#ff00ff" opacity="0.7"/>
<rect x="327.13" y="217.95" width="5.70" height="5.70" stroke="#ff00ff" stroke-width="0.7" fill="none"/>
<rect x="329.58" y="220.40" width="0.8" height="0.8" fill="#ff00ff" opacity="0.7"/>
<rect x="329.71" y="203.45" width="5.70" height="5.70" stroke="#ff00ff" stroke-width="0.7" fill="none"/>
<rect x="332.16" y="205.90" width="0.8" height="0.8" fill="#ff00ff" opacity="0.7"/>
<rect x="332.29" y="189.15" width="5.70" height="5.70" stroke="#ff00ff" stroke-width="0.7" fill="none"/>
<rect x="334.74" y="191.60" width="0.8" height="0.8" fill="#ff00ff" opacity="0.7"/>
<rect x="334.88" y="173.15" width="5.70" height="5.70" stroke="#ff00ff" stroke-width="0.7" fill="none"/>
<rect x="337.33" y="175.60" width="0.8" height="0.8" fill="#ff00ff" opacity="0.7"/>
<rect x="337.46" y="161.65" width="5.70" height="5.70" stroke="#ff00ff" stroke-width="0.7" fill="none"/>
<rect x="339.91" y="164.10" width="0.8" height="0.8" fill="#ff00ff" opacity="0.7"/>
<rect x="340.05" y="151.45" width="5.70" height="5.70" stroke="#ff00ff" stroke-width="0.7" fill="none"/>
<rect x="342.50" y="153.90" width="0.8" height="0.8" fill="#ff00ff" opacity="0.7"/>
<rect x="342.63" y="143.55" width="5.70" height="5.70" stroke="#ff00ff" stroke-width="0.7" fill="none"/>
<rect x="345.08" y="146.00" width="0.8" height="0.8" fill="#ff00ff" opacity="0.7"/>
<rect x="345.22" y="135.85" width="5.70" height="5.70" stroke="#ff00ff" stroke-width="0.7" fill="none"/>
<rect x="347.67" y="138.30" width="0.8" height="0.8" fill="#ff00ff" opacity="0.7"/>
<rect x="347.80" y="131.15" width="5.70" height="5.70" stroke="#ff00ff" stroke-width="0.7" fill="none"/>
<rect x="350.25" y="133.60" width="0.8" height="0.8" fill="#ff00ff" opacity="0.7"/>
<rect x="360.72" y="115.35" width="5.70" height="5.70" stroke="#ff00ff" stroke-width="0.7" fill="none"/>
<rect x="363.17" y="117.80" width="0.8" height="0.8" fill="#ff00ff" opacity="0.7"/>
<rect x="373.64" y="105.25" width="5.70" height="5.70" stroke="#ff00ff" stroke-width="0.7" fill="none"/>
<rect x="376.09" y="107.70" width="0.8" height="0.8" fill="#ff00ff" opacity="0.7"/>
<rect x="386.56" y="97.55" width="5.70" height="5.70" stroke="#ff00ff" stroke-width="0.7" fill="none"/>
<rect x="389.01" y="100.00" width="0.8" height="0.8" fill="#ff00ff" opacity="0.7"/>
<rect x="399.49" y="90.85" width="5.70" height="5.70" stroke="#ff00ff" stroke-width="0.7" fill="none"/>
<rect x="401.94" y="93.30" width="0.8" height="0.8" fill="#ff00ff" opacity="0.7"/>
<rect x="412.41" y="85.15" width="5.70" height="5.70" stroke="#ff00ff" stroke-width="0.7" fill="none"/>
<rect x="414.86" y="87.60" width="0.8" height="0.8" fill="#ff00ff" opacity="0.7"/>
<path d="M388.40 247.20 L425.40 247.20" fill="none" stroke="#ff0000" stroke-width="0.7"/>
<path d="M404.15 247.20H409.85M407.00 244.35V250.05" stroke="#ff0000" stroke-width="0.7" fill="none"/>
<path d="M388.40 259.80 L425.40 259.80" fill="none" stroke="#0000ff" stroke-width="0.7" stroke-dasharray="2 2.6"/>
<path d="M404.20 259.80H409.80M407.00 257.00V262.60M404.20 257.00L409.80 262.60M404.20 262.60L409.80 257.00" stroke="#0000ff" stroke-width="0.8" fill="none"/>
<path d="M388.40 273.00 L425.40 273.00" fill="none" stroke="#ff00ff" stroke-width="0.7" stroke-dasharray="0.8 0.8"/>
<rect x="404.15" y="270.15" width="5.70" height="5.70" stroke="#ff00ff" stroke-width="0.7" fill="none"/>
<rect x="406.60" y="272.60" width="0.8" height="0.8" fill="#ff00ff" opacity="0.7"/></g>
<g><rect x="79.30" y="15.90" width="361.80" height="269.00" fill="none" stroke="#000" stroke-width="1.35"/>
<path d="M130.99 284.90v-5.70M130.99 15.90v5.70M182.67 284.90v-5.70M182.67 15.90v5.70M234.36 284.90v-5.70M234.36 15.90v5.70M286.04 284.90v-5.70M286.04 15.90v5.70M337.73 284.90v-5.70M337.73 15.90v5.70M389.41 284.90v-5.70M389.41 15.90v5.70M79.30 255.01h5.70M441.10 255.01h-5.70M79.30 225.12h5.70M441.10 225.12h-5.70M79.30 195.23h5.70M441.10 195.23h-5.70M79.30 165.34h5.70M441.10 165.34h-5.70M79.30 135.46h5.70M441.10 135.46h-5.70M79.30 105.57h5.70M441.10 105.57h-5.70M79.30 75.68h5.70M441.10 75.68h-5.70M79.30 45.79h5.70M441.10 45.79h-5.70" stroke="#000" stroke-width="1.2" fill="none"/></g>
<g><text x="71.50" y="289.60" text-anchor="end" font-size="14.2" textLength="7.20" lengthAdjust="spacingAndGlyphs">0</text>
<text x="71.50" y="259.71" text-anchor="end" font-size="14.2" textLength="18.00" lengthAdjust="spacingAndGlyphs">0.1</text>
<text x="71.50" y="229.82" text-anchor="end" font-size="14.2" textLength="18.00" lengthAdjust="spacingAndGlyphs">0.2</text>
<text x="71.50" y="199.93" text-anchor="end" font-size="14.2" textLength="18.00" lengthAdjust="spacingAndGlyphs">0.3</text>
<text x="71.50" y="170.04" text-anchor="end" font-size="14.2" textLength="18.00" lengthAdjust="spacingAndGlyphs">0.4</text>
<text x="71.50" y="140.16" text-anchor="end" font-size="14.2" textLength="18.00" lengthAdjust="spacingAndGlyphs">0.5</text>
<text x="71.50" y="110.27" text-anchor="end" font-size="14.2" textLength="18.00" lengthAdjust="spacingAndGlyphs">0.6</text>
<text x="71.50" y="80.38" text-anchor="end" font-size="14.2" textLength="18.00" lengthAdjust="spacingAndGlyphs">0.7</text>
<text x="71.50" y="50.49" text-anchor="end" font-size="14.2" textLength="18.00" lengthAdjust="spacingAndGlyphs">0.8</text>
<text x="71.50" y="20.60" text-anchor="end" font-size="14.2" textLength="18.00" lengthAdjust="spacingAndGlyphs">0.9</text>
<text x="81.20" y="302.50" text-anchor="middle" font-size="14.2" textLength="25.30" lengthAdjust="spacingAndGlyphs">0.66</text>
<text x="132.89" y="302.50" text-anchor="middle" font-size="14.2" textLength="25.30" lengthAdjust="spacingAndGlyphs">0.68</text>
<text x="184.57" y="302.50" text-anchor="middle" font-size="14.2" textLength="18.60" lengthAdjust="spacingAndGlyphs">0.7</text>
<text x="236.26" y="302.50" text-anchor="middle" font-size="14.2" textLength="25.30" lengthAdjust="spacingAndGlyphs">0.72</text>
<text x="287.94" y="302.50" text-anchor="middle" font-size="14.2" textLength="25.30" lengthAdjust="spacingAndGlyphs">0.74</text>
<text x="339.63" y="302.50" text-anchor="middle" font-size="14.2" textLength="25.30" lengthAdjust="spacingAndGlyphs">0.76</text>
<text x="391.31" y="302.50" text-anchor="middle" font-size="14.2" textLength="25.30" lengthAdjust="spacingAndGlyphs">0.78</text>
<text x="443.00" y="302.50" text-anchor="middle" font-size="14.2" textLength="18.60" lengthAdjust="spacingAndGlyphs">0.8</text>
<text x="151.80" y="50.00" font-family="Liberation Serif" style="font-family:'Liberation Serif',serif;stroke-width:0.1px" font-size="14.4" textLength="9.9" lengthAdjust="spacingAndGlyphs">Ω</text>
<text x="161.20" y="50.00" text-anchor="start" font-size="14.2" textLength="33.50" lengthAdjust="spacingAndGlyphs">=0.60</text>
<text x="208.50" y="97.90" font-family="Liberation Serif" style="font-family:'Liberation Serif',serif;stroke-width:0.1px" font-size="14.4" textLength="9.9" lengthAdjust="spacingAndGlyphs">Ω</text>
<text x="217.90" y="97.90" text-anchor="start" font-size="14.2" textLength="33.50" lengthAdjust="spacingAndGlyphs">=0.80</text>
<text x="363.50" y="80.00" font-family="Liberation Serif" style="font-family:'Liberation Serif',serif;stroke-width:0.1px" font-size="14.4" textLength="9.9" lengthAdjust="spacingAndGlyphs">Ω</text>
<text x="372.90" y="80.00" text-anchor="start" font-size="14.2" textLength="26.20" lengthAdjust="spacingAndGlyphs">=1.0</text>
<text x="380.30" y="251.60" text-anchor="end" font-size="14.2" textLength="29.10" lengthAdjust="spacingAndGlyphs">L=60</text>
<text x="380.30" y="264.40" text-anchor="end" font-size="14.2" textLength="35.90" lengthAdjust="spacingAndGlyphs">L=100</text>
<text x="380.30" y="277.20" text-anchor="end" font-size="14.2" textLength="35.90" lengthAdjust="spacingAndGlyphs">L=200</text>
<text x="257.2" y="321.9" style="font-family:'Liberation Serif',serif;stroke-width:0.15px" font-size="14.2">λ</text>
<text transform="translate(28.6,163.3) rotate(-90)" font-size="13.6" textLength="8.8" lengthAdjust="spacingAndGlyphs">P</text>
<text transform="translate(33.4,154.3) rotate(-90)" font-size="9.1" style="stroke-width:0.2px">max</text></g>
</svg></body></html>
